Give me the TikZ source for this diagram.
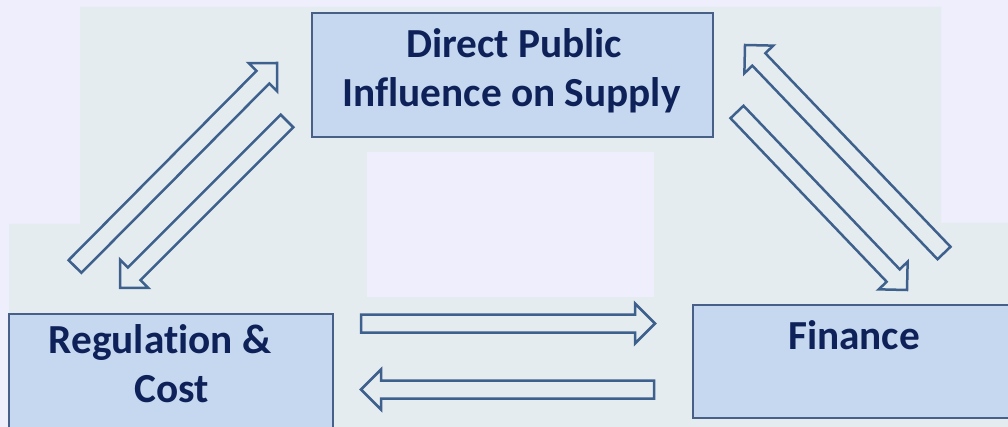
\documentclass[tikz,border=0pt]{standalone}
\usepackage{fontspec}
\setmainfont{Carlito}[Ligatures=NoCommon]
\usetikzlibrary{calc}
\definecolor{lav}{RGB}{238,238,252}
\definecolor{pane}{RGB}{229,236,240}
\definecolor{boxfill}{RGB}{198,216,239}
\definecolor{boxline}{RGB}{72,96,135}
\definecolor{arrowline}{RGB}{62,96,140}
\definecolor{ink}{RGB}{14,33,88}
\newcommand{\blockarrow}[2]{%
  \path ($(#2)!20pt!(#1)$) coordinate (#2base);
  \draw[blk] ($(#1)!9pt!90:(#2)$) -- ($(#2base)!9pt!90:(#2)$) -- ($(#2base)!20pt!90:(#2)$)
    -- (#2) -- ($(#2base)!20pt!-90:(#2)$) -- ($(#2base)!9pt!-90:(#2)$)
    -- ($(#1)!9pt!-90:(#2)$) -- cycle;}
\begin{document}
\begin{tikzpicture}[x=1pt,y=-1pt,
  box/.style={draw=boxline, line width=2pt, fill=boxfill, inner sep=0pt},
  lbl/.style={font=\bfseries\fontsize{41.3}{49}\selectfont, text=ink, anchor=base, inner sep=0pt},
  blk/.style={draw=arrowline, line width=2.5pt, line join=miter}]
\useasboundingbox (0,0) rectangle (1008,427);
\clip (0,0) rectangle (1008,427);
\fill[lav] (0,0) rectangle (1008,427);
\fill[pane] (80,7) -- (941,7) -- (941,223) -- (1008,223) -- (1008,427) -- (9,427) -- (9,224) -- (80,224) -- cycle;
\fill[lav] (367,152) rectangle (654,297);
% boxes
\node[box, minimum width=401, minimum height=124] (dpi) at (512.5,75) {};
\node[box, minimum width=324, minimum height=131] (reg) at (171,379.5) {};
\node[box, minimum width=327, minimum height=113] (fin) at (856.5,361.5) {};
% labels
\node[lbl] (dpi1) at (514,58) {Direct Public};
\node[lbl] (dpi2) at (511.5,107) {Influence on Supply};
\node[lbl] (reg1) at (160,353) {Regulation \&};
\node[lbl] (reg2) at (172,402) {Cost};
\node[lbl] (fin1) at (854,349) {Finance};
% arrow end points
\coordinate (aT) at (361,323.5); \coordinate (aH) at (655,323.5);
\coordinate (bT) at (654,389.5); \coordinate (bH) at (361,389.5);
\coordinate (cT) at (75,266.5);  \coordinate (cH) at (277,63);
\coordinate (dT) at (287,121);   \coordinate (dH) at (120,288);
\coordinate (eT) at (944,253);   \coordinate (eH) at (745,45);
\coordinate (fT) at (737,112);   \coordinate (fH) at (907,290);
\blockarrow{aT}{aH}
\blockarrow{bT}{bH}
\blockarrow{cT}{cH}
\blockarrow{dT}{dH}
\blockarrow{eT}{eH}
\blockarrow{fT}{fH}
\end{tikzpicture}
\end{document}
